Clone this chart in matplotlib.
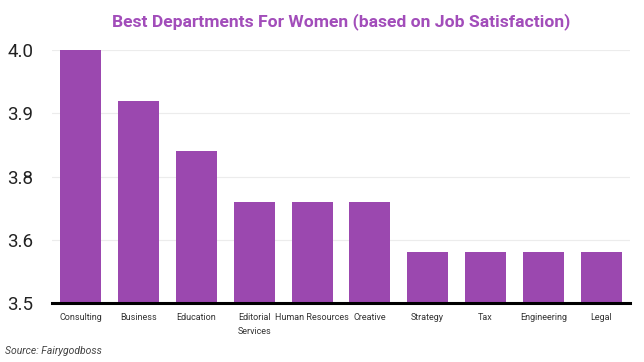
import matplotlib
matplotlib.use("Agg")
import matplotlib.pyplot as plt
import numpy as np

# data
departments = ["Consulting", "Business", "Education", "Editorial\nServices",
               "Human Resources", "Creative", "Strategy", "Tax",
               "Engineering", "Legal"]
satisfaction = [4.0, 3.9, 3.8, 3.7, 3.7, 3.7, 3.6, 3.6, 3.6, 3.6]
y_ticks = [3.5, 3.625, 3.75, 3.875, 4.0]
y_tick_labels = ["3.5", "3.6", "3.8", "3.9", "4.0"]

plt.rcParams['font.family'] = ['Roboto', 'DejaVu Sans']

fig = plt.figure(figsize=(6.44, 3.62), dpi=100)
ax = fig.add_axes([52 / 644, 59 / 362, 578 / 644, 253 / 362])

x = np.arange(len(departments))
ax.bar(x, satisfaction, width=0.71, color='#9B48AF', zorder=2)

ax.set_ylim(3.5, 4.0)
ax.set_xlim(-0.5, len(departments) - 0.5)
ax.set_yticks(y_ticks)
ax.set_yticklabels(y_tick_labels, fontsize=13.5, color='#222222')
ax.set_xticks(x)
ax.set_xticklabels(departments, fontsize=6.5, color='#333333', va='top',
                   linespacing=1.7)
ax.tick_params(axis='both', length=0)
ax.tick_params(axis='x', pad=7)
ax.tick_params(axis='y', pad=13.5)

ax.grid(axis='y', color='#ececec', linewidth=0.8, zorder=0)
for s in ['top', 'right', 'left']:
    ax.spines[s].set_visible(False)
ax.spines['bottom'].set_linewidth(2.2)
ax.spines['bottom'].set_color('black')
ax.spines['bottom'].set_zorder(3)

fig.text(341 / 644, 1 - 22 / 362, "Best Departments For Women (based on Job Satisfaction)",
         ha='center', va='center', fontsize=12.6, fontweight='bold', color='#A24DBA')
fig.text(5 / 644, 1 - 351 / 362, "Source: Fairygodboss", ha='left', va='center',
         fontsize=7.5, style='italic', color='#444444')

fig.savefig("out.png", dpi=100)
